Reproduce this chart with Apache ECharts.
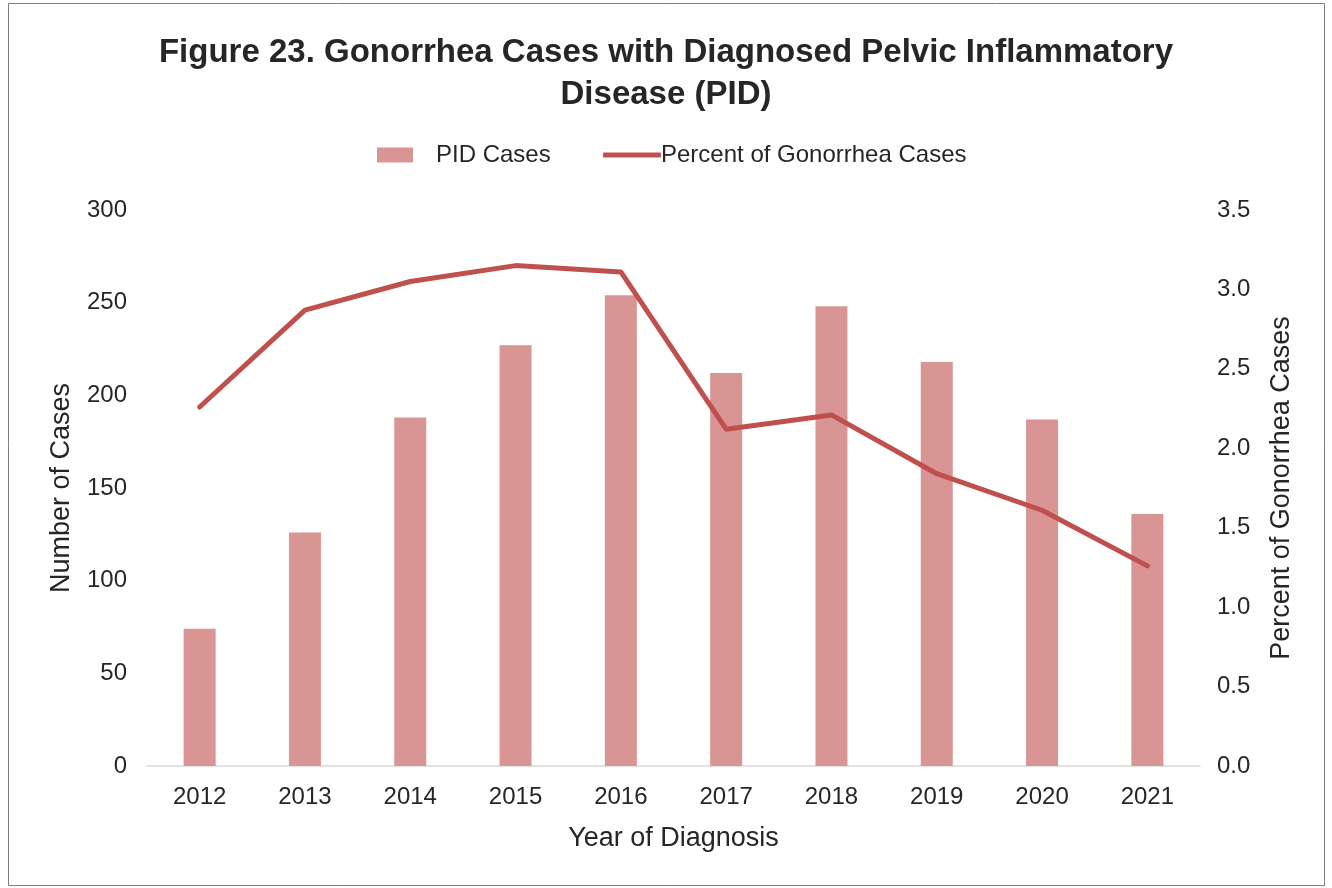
<!DOCTYPE html>
<html>
<head>
<meta charset="utf-8">
<script src="https://cdn.jsdelivr.net/npm/echarts@6/dist/echarts.min.js"></script>
<style>
  html, body { margin: 0; padding: 0; background: #fff; }
  #chart { width: 1332px; height: 888px; }
</style>
</head>
<body>
<div id="chart"></div>
<script>
// data
var years = ['2012', '2013', '2014', '2015', '2016', '2017', '2018', '2019', '2020', '2021'];
var pidCases = [74, 126, 188, 227, 254, 212, 248, 218, 187, 136];
var percentGonorrhea = [2.26, 2.87, 3.05, 3.15, 3.11, 2.12, 2.21, 1.84, 1.61, 1.26];

var chart = echarts.init(document.getElementById('chart'));
var font = 'Liberation Sans, Arial, sans-serif';

var option = {
  backgroundColor: '#fff',
  animation: false,
  graphic: [{
    type: 'rect',
    shape: { x: 8.5, y: 3.5, width: 1316, height: 882 },
    style: { fill: 'none', stroke: '#7f7f7f', lineWidth: 1 }
  }],
  title: {
    text: 'Figure 23. Gonorrhea Cases with Diagnosed Pelvic Inflammatory\nDisease (PID)',
    left: 'center',
    top: 27,
    textStyle: { fontFamily: font, fontSize: 33, fontWeight: 'bold', color: '#262626', lineHeight: 42 }
  },
  legend: [{
    data: [{ name: 'PID Cases', icon: 'rect' }],
    left: 372,
    top: 138,
    itemWidth: 36,
    itemHeight: 15,
    textStyle: { fontFamily: font, fontSize: 24, color: '#262626', padding: [0, 0, 0, 18] }
  }, {
    data: [{ name: 'Percent of Gonorrhea Cases', icon: 'roundRect' }],
    left: 598,
    top: 138,
    itemWidth: 58,
    itemHeight: 5,
    textStyle: { fontFamily: font, fontSize: 24, color: '#262626', padding: [0, 0, 0, -5] }
  }],
  grid: { left: 147, right: 132, top: 210, bottom: 122 },
  xAxis: {
    type: 'category',
    data: years,
    name: 'Year of Diagnosis',
    nameLocation: 'middle',
    nameGap: 59,
    nameTextStyle: { fontFamily: font, fontSize: 27, color: '#262626' },
    axisLine: { lineStyle: { color: '#d9d9d9', width: 1.5 } },
    axisTick: { show: false },
    axisLabel: { fontFamily: font, fontSize: 24, color: '#262626', margin: 19 }
  },
  yAxis: [{
    type: 'value',
    min: 0,
    max: 300,
    interval: 50,
    name: 'Number of Cases',
    nameLocation: 'middle',
    nameGap: 72,
    nameTextStyle: { fontFamily: font, fontSize: 27, color: '#262626' },
    splitLine: { show: false },
    axisLine: { show: false },
    axisTick: { show: false },
    axisLabel: { fontFamily: font, fontSize: 24, color: '#262626', margin: 20 }
  }, {
    type: 'value',
    min: 0,
    max: 3.5,
    interval: 0.5,
    name: 'Percent of Gonorrhea Cases',
    nameLocation: 'middle',
    nameGap: 68,
    nameRotate: 90,
    nameTextStyle: { fontFamily: font, fontSize: 27, color: '#262626' },
    splitLine: { show: false },
    axisLine: { show: false },
    axisTick: { show: false },
    axisLabel: {
      fontFamily: font, fontSize: 24, color: '#262626', margin: 17,
      formatter: function (v) { return v.toFixed(1); }
    }
  }],
  series: [{
    name: 'PID Cases',
    type: 'bar',
    data: pidCases,
    barWidth: 32,
    itemStyle: { color: '#d99594' }
  }, {
    name: 'Percent of Gonorrhea Cases',
    type: 'line',
    yAxisIndex: 1,
    data: percentGonorrhea,
    symbol: 'none',
    lineStyle: { color: '#c0504d', width: 5, cap: 'round', join: 'round' },
    itemStyle: { color: '#c0504d' }
  }]
};

chart.setOption(option);
</script>
</body>
</html>
